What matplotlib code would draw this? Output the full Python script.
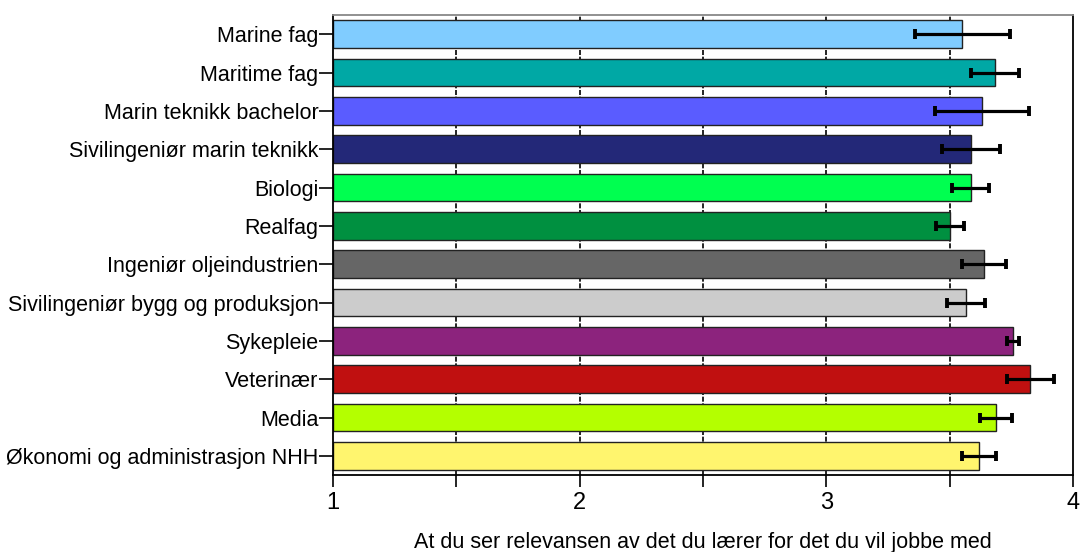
import matplotlib
matplotlib.use("Agg")
import matplotlib.pyplot as plt
import numpy as np

categories = ["Marine fag", "Maritime fag", "Marin teknikk bachelor",
              "Sivilingeniør marin teknikk", "Biologi", "Realfag",
              "Ingeniør oljeindustrien", "Sivilingeniør bygg og produksjon",
              "Sykepleie", "Veterinær", "Media", "Økonomi og administrasjon NHH"]
means = [3.552, 3.685, 3.631, 3.587, 3.585, 3.501, 3.640, 3.567, 3.757, 3.827, 3.687, 3.618]
errors = [0.192, 0.098, 0.190, 0.118, 0.074, 0.058, 0.088, 0.076, 0.024, 0.095, 0.064, 0.068]
colors = ["#80CCFF", "#00A8A5", "#5A5CFF", "#232878", "#00FF50", "#009040",
          "#666666", "#CCCCCC", "#8C237D", "#C01010", "#B4FF00", "#FFF56E"]
xlabel = "At du ser relevansen av det du lærer for det du vil jobbe med"
xticks_major = [1, 2, 3, 4]
xticks_minor = [1.5, 2.5, 3.5]
base = 1.0

plt.rcParams['font.family'] = ['Liberation Sans', 'DejaVu Sans']

fig = plt.figure(figsize=(10.8, 5.52), dpi=100)
ax = fig.add_axes([333/1080, 1 - 475/552, 740/1080, 460/552])

y = np.arange(len(categories))
vals = np.array(means) - base
ax.barh(y, vals, left=base, height=0.73, color=colors, edgecolor="#222222",
        linewidth=1.0, zorder=2)
ax.errorbar(means, y, xerr=errors, fmt="none", ecolor="black", elinewidth=2.3,
            capsize=3.8, capthick=2.8, zorder=3)

for gx in [1.5, 2, 2.5, 3, 3.5]:
    ax.axvline(gx, color="black", linestyle=(0, (3, 1)), linewidth=1.2, zorder=1)

ax.set_xlim(1, 4)
ax.set_ylim(len(categories) - 0.5, -0.5)
ax.set_yticks(y)
ax.set_yticklabels(categories, fontsize=15.5)
ax.set_xticks(xticks_major)
ax.set_xticklabels([str(t) for t in xticks_major], fontsize=17)
ax.set_xticks(xticks_minor, minor=True)
ax.tick_params(axis="y", direction="out", length=10, width=1.2, pad=0.5)
ax.tick_params(axis="x", which="both", direction="out", length=8.5, width=1.2, pad=4)
ax.set_xlabel(xlabel, fontsize=15.5, labelpad=13)

for s in ["left", "bottom", "right"]:
    ax.spines[s].set_color("black")
    ax.spines[s].set_linewidth(1.3)
ax.spines["top"].set_color("#888888")
ax.spines["top"].set_linewidth(1.3)

fig.savefig("out.png", dpi=100)
